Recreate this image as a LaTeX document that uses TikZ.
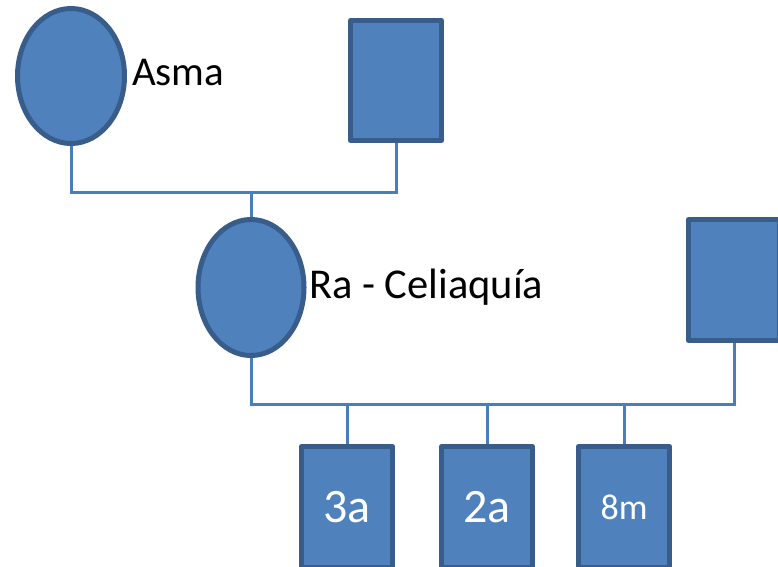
\documentclass[tikz,border=0pt]{standalone}
\usepackage{fontspec}
\setmainfont{Carlito}
\usetikzlibrary{positioning,shapes.geometric}
\definecolor{pedfill}{HTML}{4F81BD}
\definecolor{pededge}{HTML}{385D8A}
\definecolor{linkblue}{HTML}{4A7EBB}
\tikzset{
  pedlink/.style={draw=linkblue, line width=3pt},
  pednode/.style={draw=pededge, fill=pedfill, line width=5pt, line join=round, inner sep=0pt},
  pedtext/.style={inner sep=0pt, font=\fontsize{41}{49}\selectfont},
}

\begin{document}
\begin{tikzpicture}[
  x=1pt, y=-1pt,
  female/.style={pednode, ellipse, minimum width=107pt, minimum height=135pt},
  male/.style={pednode, rectangle, minimum width=91pt, minimum height=120pt},
  kid/.style={male, minimum height=121pt, text=white, font=\fontsize{48}{56}\selectfont},
]
  \useasboundingbox (0,0) rectangle (778,566);
  % grandparents
  \node[female] (abuela) at (71,76) {};
  \node[male] (abuelo) at (396,80.5) {};
  \node[pedtext, anchor=base west] (asma) at (132,85) {Asma};
  % parents
  \node[female, minimum width=106pt, minimum height=136pt] (madre) at (251,287.5) {};
  \node[male, minimum height=121pt] (padre) at (734,280) {};
  \node[pedtext, anchor=base west, font=\fontsize{42.5}{50}\selectfont] (celiaquia) at (309,298) {Ra - Celiaquía};
  % children
  \node[kid] (h1) at (347,507) {3a};
  \node[kid, right=44pt of h1] (h2) {2a};
  \node[kid, right=41pt of h2, font=\fontsize{36}{42}\selectfont] (h3) {8m};
  % couple lines
  \coordinate (u1) at (251,192);
  \coordinate (u2) at (251,404);
  \draw[pedlink] (abuela) |- (u1) -| (abuelo);
  \draw[pedlink] (u1) -- (madre);
  \draw[pedlink] (madre) |- (u2) -| (padre);
  \foreach \h in {h1,h2,h3}
    \draw[pedlink] (\h) -- (\h |- u2);
\end{tikzpicture}
\end{document}
